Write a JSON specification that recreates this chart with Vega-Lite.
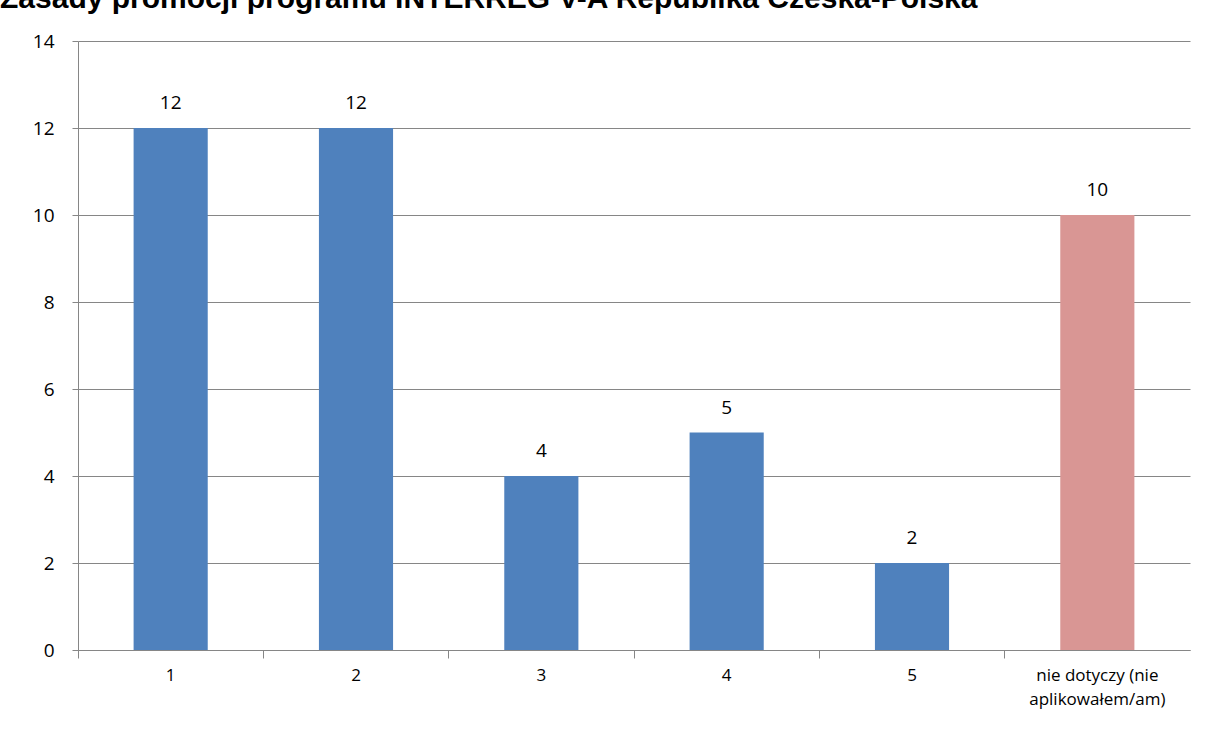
{
  "$schema": "https://vega.github.io/schema/vega-lite/v6.json",
  "width": 1112,
  "height": 609,
  "autosize": "none",
  "padding": {"left": 78, "top": 41, "right": 19, "bottom": 84},
  "background": "white",
  "title": {
    "text": "Zasady promocji programu INTERREG V-A Republika Czeska-Polska",
    "anchor": "start",
    "frame": "group",
    "font": "Liberation Sans",
    "fontSize": 30,
    "fontWeight": "bold",
    "color": "#000000",
    "dx": -78,
    "dy": -14
  },
  "config": {
    "view": {"stroke": null},
    "font": "Open Sans"
  },
  "data": {
    "values": [
      {"kategoria": "1", "liczba": 12, "typ": "a"},
      {"kategoria": "2", "liczba": 12, "typ": "a"},
      {"kategoria": "3", "liczba": 4, "typ": "a"},
      {"kategoria": "4", "liczba": 5, "typ": "a"},
      {"kategoria": "5", "liczba": 2, "typ": "a"},
      {"kategoria": "nie dotyczy (nie aplikowałem/am)", "liczba": 10, "typ": "b"}
    ]
  },
  "encoding": {
    "x": {
      "field": "kategoria",
      "type": "nominal",
      "sort": null,
      "scale": {"paddingInner": 0, "paddingOuter": 0},
      "axis": {
        "title": null,
        "labelAngle": 0,
        "labelFont": "Open Sans",
        "labelFontSize": 17,
        "labelColor": "#000000",
        "labelPadding": 9,
        "labelLineHeight": 24,
        "labelExpr": "datum.label == 'nie dotyczy (nie aplikowałem/am)' ? ['nie dotyczy (nie', 'aplikowałem/am)'] : datum.label",
        "domainColor": "#868686",
        "tickColor": "#868686",
        "tickSize": 8,
        "bandPosition": 0,
        "grid": false
      }
    },
    "y": {
      "field": "liczba",
      "type": "quantitative",
      "scale": {"domain": [0, 14]},
      "axis": {
        "title": null,
        "values": [0, 2, 4, 6, 8, 10, 12, 14],
        "labelFont": "Open Sans",
        "labelFontSize": 19,
        "labelColor": "#000000",
        "labelPadding": 18,
        "domainColor": "#868686",
        "tickColor": "#868686",
        "tickSize": 6,
        "gridColor": "#868686",
        "gridOpacity": 1
      }
    }
  },
  "layer": [
    {
      "mark": {"type": "bar", "width": {"band": 0.4}},
      "encoding": {
        "color": {
          "field": "typ",
          "type": "nominal",
          "scale": {"domain": ["a", "b"], "range": ["#4F81BD", "#D99694"]},
          "legend": null
        }
      }
    },
    {
      "mark": {"type": "text", "dy": -25, "fontSize": 19, "font": "Open Sans", "color": "#000000"},
      "encoding": {"text": {"field": "liczba", "type": "quantitative"}}
    }
  ]
}
